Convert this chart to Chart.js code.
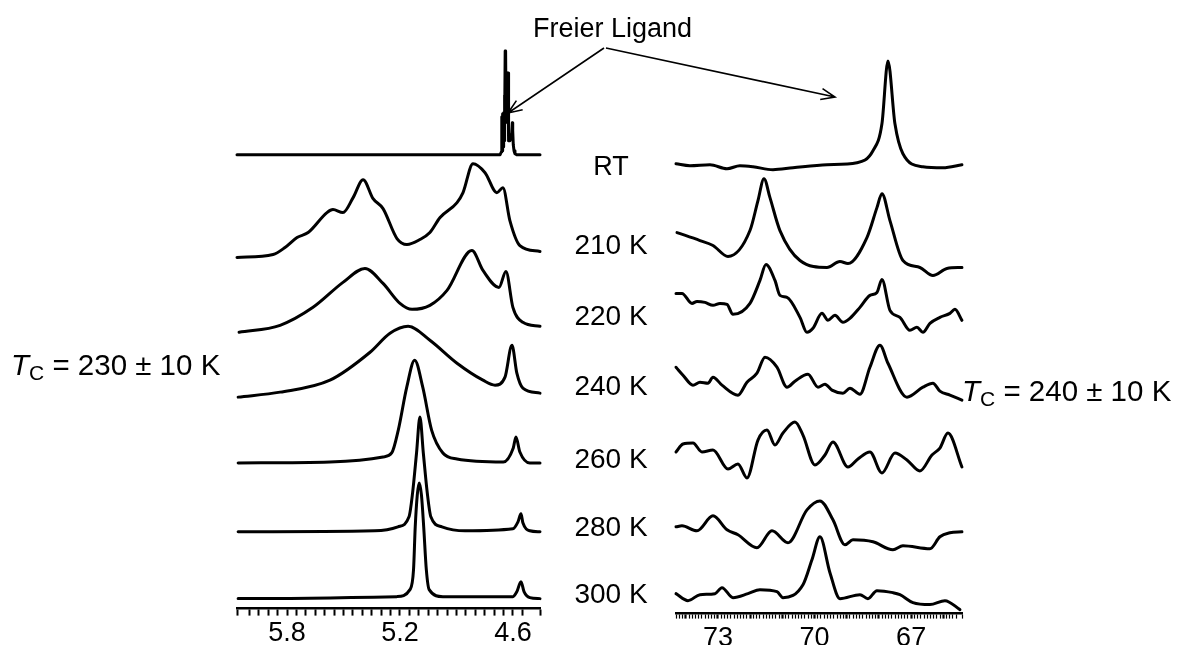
<!DOCTYPE html>
<html>
<head>
<meta charset="utf-8">
<script src="https://cdn.jsdelivr.net/npm/chart.js@4"></script>
<style>
  html, body { margin: 0; padding: 0; background: #fff; width: 1180px; height: 645px; overflow: hidden; }
  .panel { position: absolute; top: 0; }
  #notes { position: absolute; left: 0; top: 0; pointer-events: none; }
</style>
</head>
<body>
<div id="wrapH" class="panel" style="left:200px;"><canvas id="h1" width="380" height="645"></canvas></div>
<div id="wrapC" class="panel" style="left:640px;"><canvas id="c13" width="360" height="645"></canvas></div>
<svg id="notes" width="1180" height="645" xmlns="http://www.w3.org/2000/svg"></svg>

<script>
// ---- spectra: [chemical shift (ppm), intensity above the trace baseline (a.u.)] ----
const temps = ['RT', '210 K', '220 K', '240 K', '260 K', '280 K', '300 K'];

// 1H region
const h1_RT = [[6.066,0],[4.668,0],[4.661,3],[4.659,38],[4.6575,4],[4.656,40],[4.6545,6],[4.653,41],[4.6515,8],[4.650,42],[4.6485,10],[4.647,40],[4.6455,14],[4.644,60],[4.6425,30],[4.641,104],[4.6395,36],[4.638,104],[4.6365,40],[4.635,66],[4.6335,38],[4.632,58],[4.6305,36],[4.629,82],[4.6275,32],[4.626,82],[4.6245,28],[4.623,36],[4.6215,14],[4.619,18],[4.616,14],[4.612,16],[4.606,22],[4.603,32],[4.601,24],[4.598,10],[4.594,4],[4.589,1],[4.58,0],[4.456,0]];
const h1_210 = [[6.066,0],[5.874,3],[5.811,10],[5.747,20],[5.688,25],[5.588,45],[5.556,48],[5.503,45],[5.449,60],[5.396,78],[5.343,59],[5.290,49],[5.216,19],[5.163,13],[5.094,18],[5.041,25],[4.987,40],[4.897,55],[4.865,65],[4.812,94],[4.748,85],[4.685,65],[4.653,70],[4.616,37],[4.563,12],[4.456,6]];
const h1_220 = [[6.055,0],[5.837,7],[5.662,25],[5.503,50],[5.386,64],[5.290,49],[5.200,29],[5.136,23],[5.041,27],[4.950,42],[4.818,82],[4.759,62],[4.674,45],[4.637,61],[4.600,25],[4.547,10],[4.456,6]];
const h1_240 = [[6.060,0],[5.837,5],[5.572,17],[5.359,45],[5.253,64],[5.157,71],[5.041,57],[4.897,34],[4.759,17],[4.695,12],[4.642,20],[4.605,52],[4.579,24],[4.547,9],[4.456,4]];
const h1_260 = [[6.060,0],[5.572,1],[5.290,6],[5.244,10],[5.209,33],[5.164,76],[5.122,103],[5.079,76],[5.032,33],[4.972,10],[4.897,4],[4.651,1],[4.598,15],[4.584,26],[4.563,11],[4.510,0],[4.456,0]];
const h1_280 = [[6.060,0],[5.334,1],[5.211,5],[5.152,15],[5.133,39],[5.112,79],[5.094,115],[5.076,79],[5.055,39],[5.036,15],[4.977,5],[4.854,1],[4.600,3],[4.573,10],[4.557,18],[4.547,9],[4.510,1],[4.456,0]];
const h1_300 = [[6.060,0],[5.216,2],[5.147,9],[5.128,29],[5.119,72],[5.108,104],[5.098,116],[5.086,104],[5.074,72],[5.060,29],[5.045,9],[4.972,2],[4.600,2],[4.579,7],[4.557,17],[4.541,7],[4.510,1],[4.456,0]];

// 13C region
const c13_RT = [[74.304,0],[73.870,-2],[73.248,-1],[72.720,-5],[72.320,-2],[71.913,-3],[71.292,-6],[70.671,-4],[69.615,-1],[68.683,1],[68.186,13],[67.907,40],[67.720,103],[67.503,40],[67.255,10],[66.634,-3],[66.012,-4],[65.422,-1]];
const c13_210 = [[74.273,0],[73.559,-8],[73.155,-13],[72.689,-24],[72.006,2],[71.758,32],[71.571,54],[71.385,35],[71.075,2],[70.453,-28],[69.615,-35],[69.211,-29],[68.963,-31],[68.373,-5],[68.062,25],[67.907,39],[67.658,12],[67.255,-28],[66.727,-35],[66.323,-43],[65.888,-36],[65.422,-35]];
const c13_220 = [[74.304,0],[74.118,0],[73.807,-10],[73.652,-8],[73.404,-9],[73.155,-12],[72.938,-10],[72.720,-11],[72.534,-21],[72.006,-10],[71.696,13],[71.509,29],[71.230,13],[71.075,-2],[70.857,-4],[70.453,-24],[70.236,-39],[70.050,-35],[69.770,-20],[69.584,-27],[69.366,-22],[69.118,-29],[68.901,-25],[68.590,-14],[68.280,-2],[68.062,1],[67.907,14],[67.658,-17],[67.348,-24],[67.037,-37],[66.820,-34],[66.634,-39],[66.416,-30],[66.106,-24],[65.795,-20],[65.640,-16],[65.422,-27]];
const c13_240 = [[74.304,0],[74.087,-8],[73.776,-18],[73.559,-15],[73.311,-16],[73.155,-10],[72.876,-18],[72.379,-28],[72.099,-15],[71.789,-6],[71.540,10],[71.168,0],[70.857,-20],[70.609,-14],[70.205,-7],[69.894,-20],[69.677,-17],[69.460,-23],[69.118,-26],[68.901,-21],[68.590,-27],[68.280,0],[67.969,22],[67.720,4],[67.130,-30],[66.634,-20],[66.323,-16],[66.106,-24],[65.795,-28],[65.422,-33]];
const c13_260 = [[74.304,0],[74.087,8],[73.776,9],[73.497,0],[73.155,2],[72.689,-17],[72.379,-12],[72.099,-26],[71.758,12],[71.478,22],[71.230,7],[70.981,19],[70.609,30],[70.360,17],[69.988,-13],[69.677,-3],[69.429,10],[68.963,-15],[68.652,-7],[68.280,0],[67.907,-21],[67.503,-1],[67.130,-8],[66.727,-19],[66.354,-3],[66.106,4],[65.857,19],[65.422,-15]];
const c13_280 = [[74.304,0],[74.118,1],[73.652,-4],[73.155,11],[72.720,-3],[72.379,-8],[71.789,-21],[71.323,-4],[70.826,-16],[70.236,17],[69.832,26],[69.429,7],[69.056,-18],[68.807,-13],[68.186,-15],[67.565,-23],[67.255,-19],[66.416,-22],[66.106,-10],[65.795,-6],[65.422,-5]];
const c13_300 = [[74.304,0],[73.932,-7],[73.559,-1],[73.093,0],[72.876,6],[72.534,-4],[72.068,0],[71.696,4],[71.168,2],[70.981,-4],[70.360,9],[70.081,34],[69.832,57],[69.522,21],[69.211,-5],[68.590,-1],[68.342,-5],[68.062,3],[67.565,1],[67.348,-1],[66.944,-9],[66.416,-11],[65.950,-7],[65.484,-16]];

// axis tick labels (ppm)
const h1TickLabels = [5.8, 5.2, 4.6];
const c13TickLabels = [73, 70, 67];

// ---- layout ----
const FONT = "'Liberation Sans', Arial, Helvetica, sans-serif";
// vertical stacking: baseline height of each trace above the axis line (px)
const h1Stack  = [455, 352, 277, 212, 146, 77, 10];
const c13Stack = [451, 382, 321, 247, 162, 87, 20];

function buildPanel(cfg) {
  const wrap = document.getElementById(cfg.wrap);
  const canvas = wrap.querySelector('canvas');
  const chart = new Chart(canvas, {
    type: 'line',
    data: {
      datasets: cfg.traces.map((tr, i) => ({
        label: temps[i],
        data: tr.map(([x, v]) => ({ x: x, y: v + cfg.stack[i] })),
        borderColor: '#000',
        borderWidth: 3,
        pointRadius: 0,
        pointHoverRadius: 0,
        fill: false,
        clip: false,
        borderJoinStyle: 'round',
        borderCapStyle: 'round',
        tension: cfg.stick[i] ? 0 : 0.4,
        cubicInterpolationMode: cfg.stick[i] ? 'default' : 'monotone'
      }))
    },
    options: {
      responsive: false,
      animation: false,
      events: [],
      layout: { padding: { left: cfg.padL, right: cfg.padR, top: 0, bottom: 0 } },
      plugins: { legend: { display: false }, tooltip: { enabled: false } },
      scales: {
        x: {
          type: 'linear',
          reverse: true,
          min: cfg.min,
          max: cfg.max,
          ticks: {
            stepSize: cfg.step,
            autoSkip: false,
            maxRotation: 0,
            minRotation: 0,
            padding: cfg.tickPad,
            color: '#000',
            font: { family: FONT, size: 27 },
            callback: v => cfg.labels.some(l => Math.abs(l - v) < 1e-6) ? cfg.fmt(v) : ''
          },
          grid: {
            display: true,
            drawOnChartArea: false,
            drawTicks: true,
            tickLength: cfg.tickLen,
            tickColor: '#000',
            tickWidth: cfg.tickWidth
          },
          border: { display: true, color: '#000', width: 2.5 }
        },
        y: { type: 'linear', display: false, min: 0, max: 600 }
      }
    }
  });
  // one unit of intensity = one pixel; put the axis line at the wanted height
  const a = chart.chartArea;
  wrap.style.top = (cfg.axisY - a.bottom) + 'px';
  chart.options.scales.y.max = a.bottom - a.top;
  chart.update();
  return chart;
}

buildPanel({
  wrap: 'wrapH',
  traces: [h1_RT, h1_210, h1_220, h1_240, h1_260, h1_280, h1_300],
  stack: h1Stack,
  stick: [true, false, false, false, false, false, false],
  min: 4.456, max: 6.066, step: 0.05,
  labels: h1TickLabels, fmt: v => v.toFixed(1),
  padL: 37, padR: 40, tickLen: 7, tickPad: 2, tickWidth: 2,
  axisY: 609
});

buildPanel({
  wrap: 'wrapC',
  traces: [c13_RT, c13_210, c13_220, c13_240, c13_260, c13_280, c13_300],
  stack: c13Stack,
  stick: [false, false, false, false, false, false, false],
  min: 65.42, max: 74.304, step: 0.1,
  labels: c13TickLabels, fmt: v => String(Math.round(v)),
  padL: 36, padR: 38, tickLen: 5, tickPad: 4,
  tickWidth: ctx => (ctx.tick && Math.abs(ctx.tick.value - Math.round(ctx.tick.value)) < 1e-6) ? 2.2 : 1.2,
  axisY: 614
});

// ---- annotations ----
const NS = 'http://www.w3.org/2000/svg';
const svg = document.getElementById('notes');

function addText(str, x, y, size, anchor) {
  const t = document.createElementNS(NS, 'text');
  t.setAttribute('x', x);
  t.setAttribute('y', y);
  t.setAttribute('font-size', size);
  t.setAttribute('font-family', FONT);
  t.setAttribute('text-anchor', anchor || 'start');
  t.setAttribute('fill', '#000');
  t.textContent = str;
  svg.appendChild(t);
  return t;
}

function addTc(x, y, rest) {
  const t = document.createElementNS(NS, 'text');
  t.setAttribute('x', x);
  t.setAttribute('y', y);
  t.setAttribute('font-size', 29.5);
  t.setAttribute('font-family', FONT);
  t.setAttribute('fill', '#000');
  const a = document.createElementNS(NS, 'tspan');
  a.setAttribute('font-style', 'italic');
  a.textContent = 'T';
  const b = document.createElementNS(NS, 'tspan');
  b.setAttribute('font-size', 21);
  b.setAttribute('dy', 5);
  b.textContent = 'C';
  const c = document.createElementNS(NS, 'tspan');
  c.setAttribute('dy', -5);
  c.textContent = rest;
  t.appendChild(a); t.appendChild(b); t.appendChild(c);
  svg.appendChild(t);
}

function addArrow(x1, y1, x2, y2) {
  const ang = Math.atan2(y2 - y1, x2 - x1);
  const len = 15, spread = 0.38;
  const p1 = [x2 - len * Math.cos(ang - spread), y2 - len * Math.sin(ang - spread)];
  const p2 = [x2 - len * Math.cos(ang + spread), y2 - len * Math.sin(ang + spread)];
  const path = document.createElementNS(NS, 'path');
  path.setAttribute('d', `M${x1},${y1} L${x2},${y2} M${p1[0]},${p1[1]} L${x2},${y2} L${p2[0]},${p2[1]}`);
  path.setAttribute('stroke', '#000');
  path.setAttribute('stroke-width', 1.6);
  path.setAttribute('fill', 'none');
  svg.appendChild(path);
}

addText('Freier Ligand', 533, 37, 27, 'start');
addArrow(604, 48, 508, 113);
addArrow(606, 48, 835, 97);

const tempLabelBaselines = [175, 254, 325, 395, 468, 536, 603];
temps.forEach((s, i) => addText(s, 611, tempLabelBaselines[i], i === 0 ? 27 : 28, 'middle'));

addTc(11, 375, ' = 230 \u00B1 10 K');
addTc(962, 401, ' = 240 \u00B1 10 K');
</script>
</body>
</html>
